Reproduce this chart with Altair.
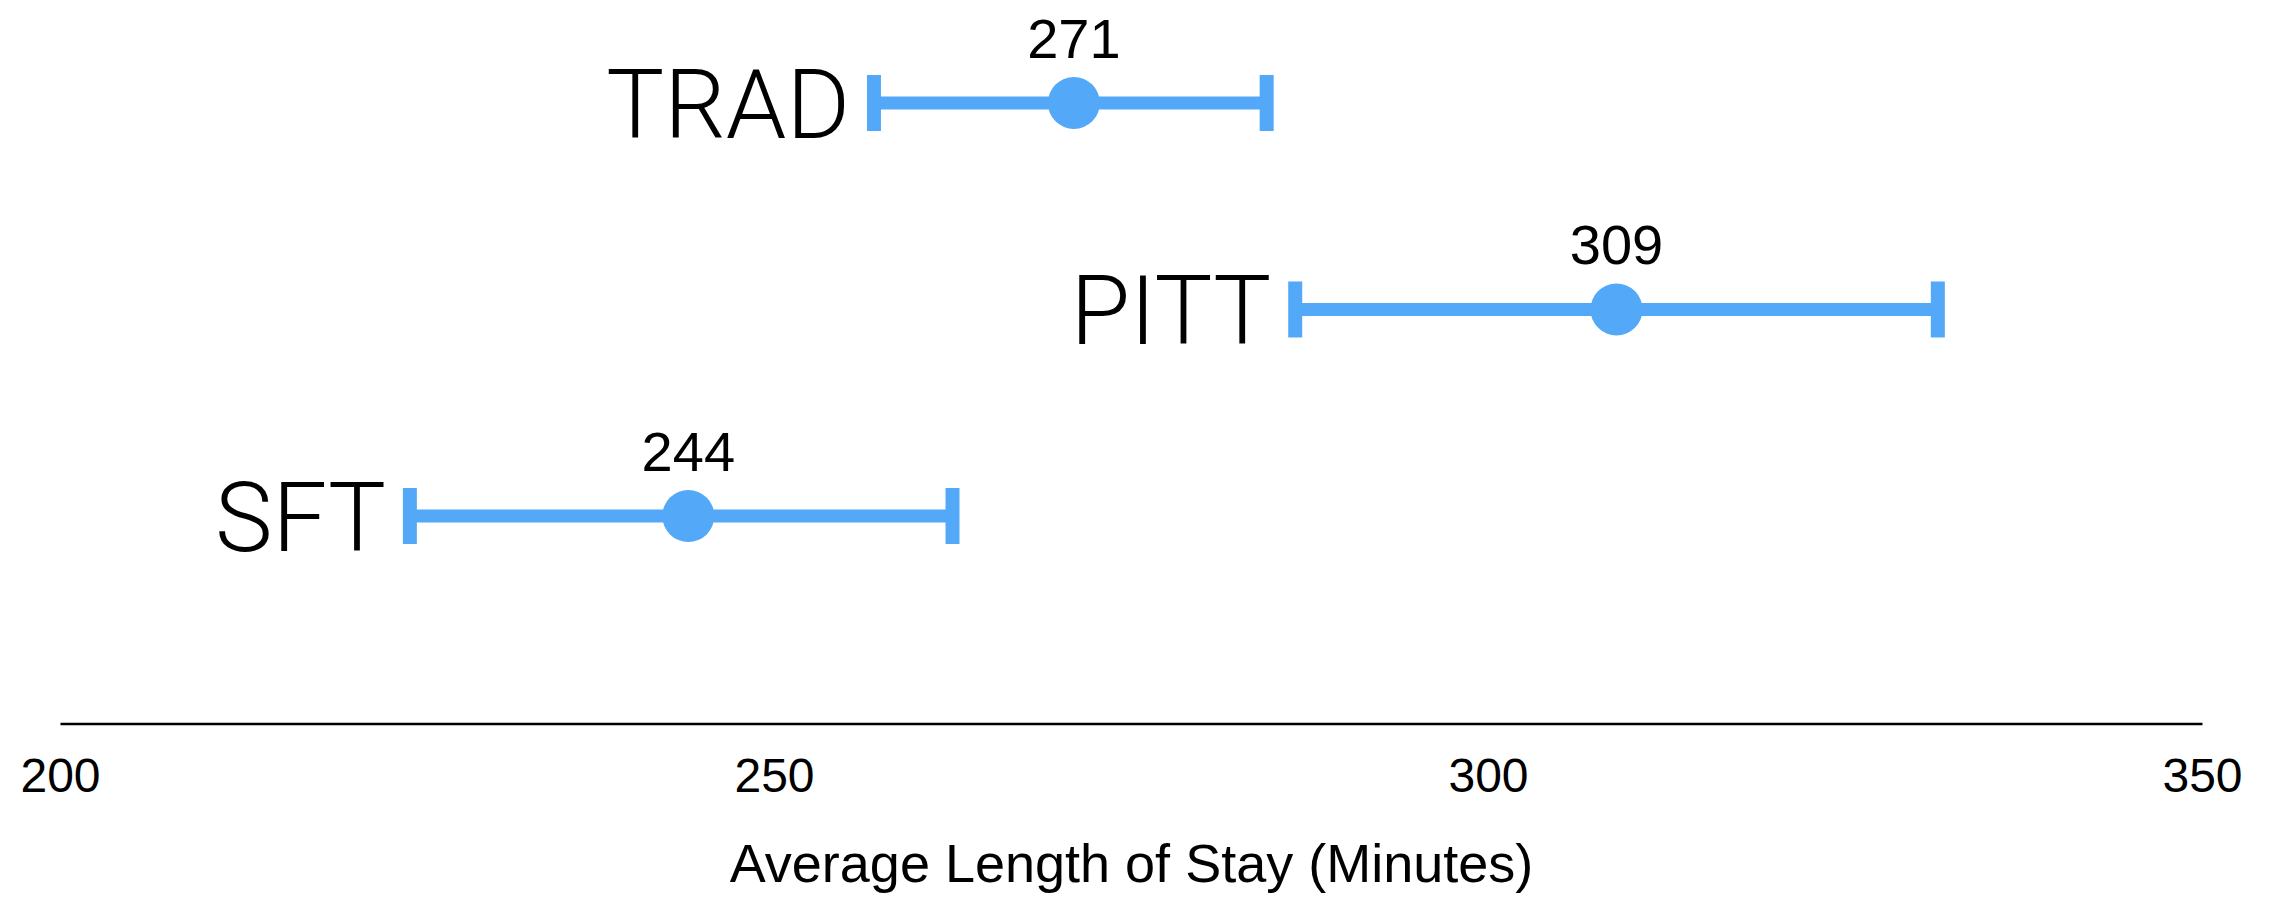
import altair as alt
import pandas as pd

categories = ["TRAD", "PITT", "SFT"]
means = [271, 309, 244]
lows = [257, 286.5, 224.5]
highs = [284.5, 331.5, 262.5]
mean_labels = ["271", "309", "244"]
x_ticks = [200, 250, 300, 350]

df = pd.DataFrame({
    "group": categories,
    "mean": means,
    "low": lows,
    "high": highs,
    "label": mean_labels,
})

BLUE = "#53A8F8"

x_scale = alt.Scale(domain=[200, 350], nice=False, zero=False)
y_scale = alt.Scale(type="point", domain=categories, padding=0.7324, align=0.314)

x_axis = alt.Axis(
    values=x_ticks,
    title="Average Length of Stay (Minutes)",
    grid=False,
    ticks=False,
    tickSize=0,
    domainColor="black",
    domainWidth=2.5,
    labelFont="Liberation Sans",
    labelFontSize=48,
    labelColor="black",
    labelPadding=68,
    labelBaseline="alphabetic",
    labelFlush=False,
    titleFont="Liberation Sans",
    titleFontSize=54,
    titleFontWeight="normal",
    titleColor="black",
    titleBaseline="alphabetic",
    titleY=158,
)

base = alt.Chart(df)
y_enc = alt.Y("group:N", scale=y_scale, axis=None, sort=categories)

bars = base.mark_rule(color=BLUE, strokeWidth=13).encode(
    x=alt.X("low:Q", scale=x_scale, axis=x_axis),
    x2="high:Q",
    y=y_enc,
)

cap_low = base.mark_tick(color=BLUE, size=56, thickness=14, opacity=1).encode(
    x=alt.X("low:Q", scale=x_scale),
    y=y_enc,
)
cap_high = base.mark_tick(color=BLUE, size=56, thickness=14, opacity=1).encode(
    x=alt.X("high:Q", scale=x_scale),
    y=y_enc,
)

dots = base.mark_circle(color=BLUE, size=2704, opacity=1).encode(
    x=alt.X("mean:Q", scale=x_scale),
    y=y_enc,
)

mean_text = base.mark_text(
    font="Liberation Sans", fontSize=56, color="black",
    align="center", baseline="alphabetic", dy=-45,
).encode(
    x=alt.X("mean:Q", scale=x_scale),
    y=y_enc,
    text="label:N",
)

group_text = base.mark_text(
    font="Helvetica Neue, Roboto, Liberation Sans", fontSize=97, fontWeight=300,
    color="black", align="right", baseline="alphabetic", dx=-24, dy=35,
).encode(
    x=alt.X("low:Q", scale=x_scale),
    y=y_enc,
    text="group:N",
)

chart = alt.layer(bars, cap_low, cap_high, dots, mean_text, group_text).properties(
    width=2142,
    height=715.5,
    padding={"left": 52, "top": 0, "right": 45, "bottom": 170},
    autosize="none",
    background="white",
).configure_view(stroke=None)

chart.save("out.html", embed_options={"renderer": "svg", "actions": False})
